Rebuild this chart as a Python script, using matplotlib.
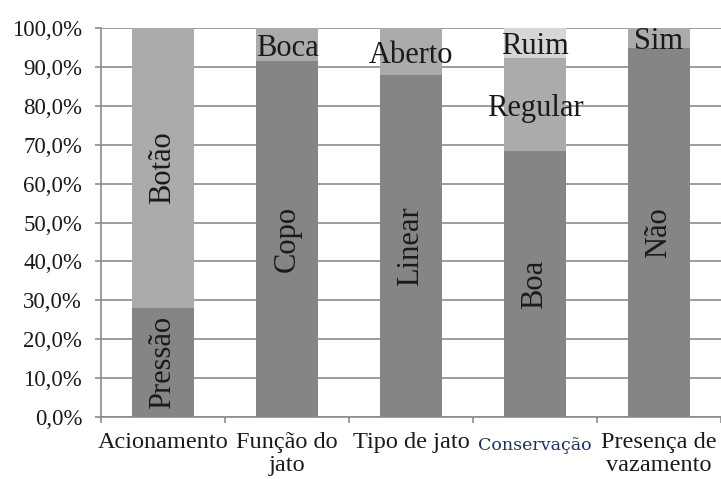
import numpy as np
import matplotlib
matplotlib.use('Agg')
import matplotlib.pyplot as plt
from matplotlib.ticker import FuncFormatter

# categories and stacked shares (%)
categories = ["Acionamento", "Função do\njato", "Tipo de jato", "Conservação", "Presença de\nvazamento"]
seg1 = [28.1, 91.4, 87.8, 68.4, 94.8]
seg2 = [71.9, 8.6, 12.2, 23.8, 5.2]
seg3 = [0.0, 0.0, 0.0, 7.8, 0.0]
lab1 = ["Pressão", "Copo", "Linear", "Boa", "Não"]
lab2 = ["Botão", "Boca", "Aberto", "Regular", "Sim"]
lab3 = ["", "", "", "Ruim", ""]
rot1 = [90, 90, 90, 90, 90]
rot2 = [90, 0, 0, 0, 0]

serif = 'Liberation Serif'
plt.rcParams['font.family'] = [serif]
plt.rcParams['font.serif'] = [serif]

fig = plt.figure(figsize=(7.21, 4.79), dpi=100)
ax = fig.add_axes([0.140, 0.1294, 0.860, 0.8121])

x = np.arange(len(categories))
w = 0.5
c1, c2, c3 = '#858585', '#ababab', '#d6d6d6'
txt = '#1a1a1a'

s1 = np.array(seg1)
s2 = np.array(seg2)
s3 = np.array(seg3)
ax.bar(x, s1, w, color=c1, zorder=3)
ax.bar(x, s2, w, bottom=s1, color=c2, zorder=3)
ax.bar(x, s3, w, bottom=s1 + s2, color=c3, zorder=3)

def seg_label(xx, yy, s, rot):
	va = 'center' if rot else 'center_baseline'
	ax.text(xx, yy, s, rotation=rot, ha='center', va=va,
		fontsize=22, color=txt, family=serif, zorder=4)

for i in range(len(categories)):
	seg_label(x[i], s1[i] / 2, lab1[i], rot1[i])
	seg_label(x[i], s1[i] + s2[i] / 2, lab2[i], rot2[i])
	if lab3[i]:
		seg_label(x[i], s1[i] + s2[i] + s3[i] / 2, lab3[i], 0)

ax.set_ylim(0, 100)
ax.set_xlim(-0.5, len(categories) - 0.5)
ax.set_yticks(np.arange(0, 101, 10))
ax.yaxis.set_major_formatter(FuncFormatter(lambda v, p: ("%.1f%%" % v).replace('.', ',')))
ax.grid(axis='y', color='#8c8c8c', linewidth=1.2, zorder=0)

ax.set_xticks(np.arange(-0.5, len(categories), 1.0))
ax.set_xticklabels([])
ax.set_xticks(x, minor=True)
ax.set_xticklabels(categories, minor=True, fontsize=17.5, linespacing=1.12)
ax.tick_params(axis='x', which='minor', length=0, pad=11)
ax.tick_params(axis='x', which='major', length=4.5, color='#8c8c8c', width=1.2)
ax.tick_params(axis='y', length=4.5, color='#8c8c8c', width=1.2, labelsize=16.5, pad=9)
for lbl in ax.get_yticklabels():
	lbl.set_fontfamily(serif)
	lbl.set_color(txt)
for lbl in ax.get_xticklabels(minor=True):
	lbl.set_fontfamily(serif)
	lbl.set_color(txt)
	if lbl.get_text() == "Conservação":
		lbl.set_fontfamily('DejaVu Serif')
		lbl.set_fontsize(12.5)
		lbl.set_color('#1f2f5f')
		lbl.set_y(-0.012)

for side in ['top', 'right']:
	ax.spines[side].set_visible(False)
for side in ['left', 'bottom']:
	ax.spines[side].set_color('#8c8c8c')
	ax.spines[side].set_linewidth(1.2)

fig.savefig("out.png", dpi=100)
plt.close()
